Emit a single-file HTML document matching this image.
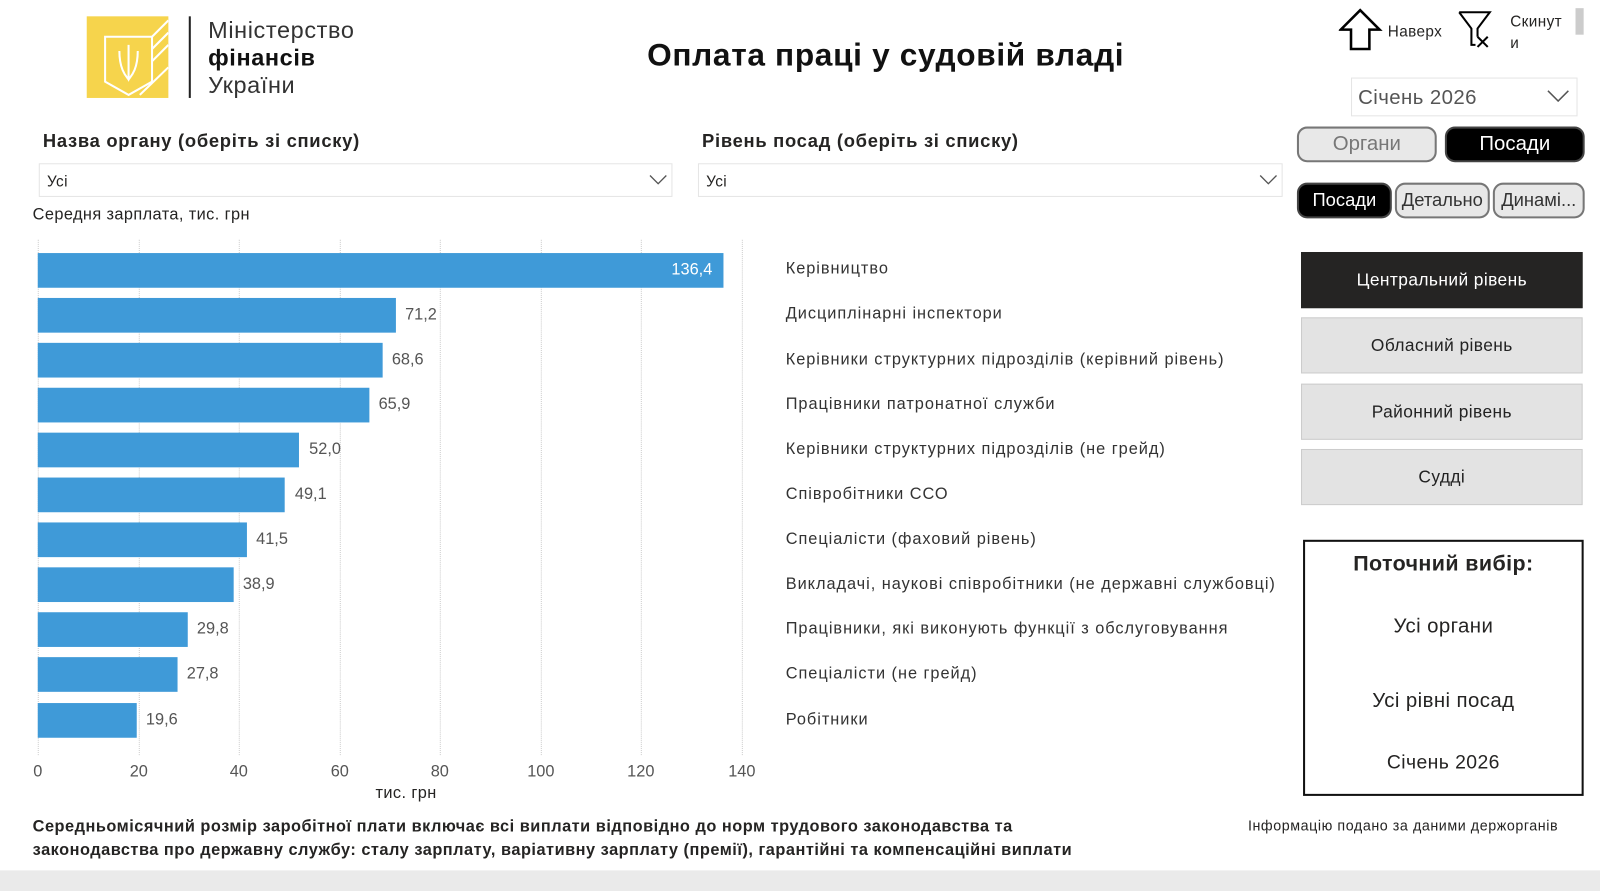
<!DOCTYPE html>
<html><head><meta charset="utf-8"><style>
body{margin:0;width:1600px;height:873px;background:#fff;overflow:hidden}
#w{position:absolute;left:0;top:0;width:1568px;height:856px;transform:scale(1.0204);transform-origin:0 0;font-family:"Liberation Sans","DejaVu Sans",sans-serif;color:#252423;letter-spacing:0.4px}
.a{position:absolute}
.bar{position:absolute;left:37px;height:34px;background:#3f9ad8}
.v{position:absolute;font-size:16px;color:#555;letter-spacing:0}
.lb{position:absolute;left:770px;font-size:16px;color:#333;letter-spacing:0.95px}
.g{position:absolute;top:235px;height:505px;border-left:1px dotted #ccc}
.t{position:absolute;top:748px;font-size:16px;color:#555;transform:translateX(-50%);letter-spacing:0}
.btn{position:absolute;box-sizing:border-box;text-align:center;border:2px solid #777;border-radius:10px;background:#e8e8e8;color:#333;letter-spacing:0}
.side{position:absolute;left:1275px;width:276px;height:55px;box-sizing:border-box;background:#e3e3e3;border:1px solid #ccc;font-size:17px;text-align:center;line-height:53px;color:#222}
</style></head><body><div id="w">
<div class="a" style="left:85px;top:16px;width:80px;height:80px;background:#f6d44c"></div>
<svg class="a" style="left:85px;top:16px" width="80" height="80"><g stroke="#fff" stroke-width="2" fill="none"><path d="M18 20h46v44l-23 13l-23-13z"/><path d="M64 20L80 4M64 32L80 16M64 44L80 28M52 77L80 50"/><path d="M41 28v34M32 34c0 20 8 26 9 28c1-2 9-8 9-28"/></g></svg>
<div class="a" style="left:185px;top:16px;width:2px;height:80px;background:#222"></div>
<div class="a" style="left:204px;top:16px;font-size:23px;line-height:27px;color:#333;letter-spacing:0.6px">Міністерство<br><b style="color:#111">фінансів</b><br>України</div>
<div class="a" style="left:0;width:1736px;top:36px;text-align:center;font-size:31px;font-weight:bold;color:#111;letter-spacing:0.65px">Оплата праці у судовій владі</div>
<svg class="a" style="left:1312px;top:8px" width="44" height="42"><path d="M21 2L2 21h10v19h18V21h10z" fill="none" stroke="#000" stroke-width="2.5"/></svg>
<div class="a" style="left:1360px;top:23px;font-size:15px">Наверх</div>
<svg class="a" style="left:1428px;top:10px" width="36" height="38"><path d="M2 2h30L20 18v8M2 2l12 16v16h4" fill="none" stroke="#000" stroke-width="2"/><path d="M20 26l10 10M30 26L20 36" stroke="#000" stroke-width="2"/></svg>
<div class="a" style="left:1480px;top:11px;font-size:15px;line-height:21px">Скинут<br>и</div>
<div class="a" style="left:1544px;top:8px;width:8px;height:26px;background:#ccc"></div>
<div class="a" style="left:1324px;top:76px;width:222px;height:38px;border:1px solid #e5e5e5;box-sizing:border-box"></div>
<div class="a" style="left:1331px;top:85px;font-size:20px;color:#555">Січень 2026</div>
<svg class="a" style="left:1516px;top:88px" width="22" height="12"><path d="M1 1l10 10L21 1" fill="none" stroke="#555" stroke-width="1.5"/></svg>
<div class="btn" style="left:1271px;top:124px;width:137px;height:35px;font-size:20px;line-height:31px;color:#777">Органи</div>
<div class="btn" style="left:1416px;top:124px;width:137px;height:35px;font-size:20px;line-height:31px;background:#000;color:#fff;border-color:#444">Посади</div>
<div class="btn" style="left:1271px;top:179px;width:93px;height:35px;font-size:18px;line-height:31px;background:#000;color:#fff;border-color:#444">Посади</div>
<div class="btn" style="left:1367px;top:179px;width:93px;height:35px;font-size:18px;line-height:31px">Детально</div>
<div class="btn" style="left:1463px;top:179px;width:90px;height:35px;font-size:18px;line-height:31px">Динамі...</div>
<div class="a" style="left:42px;top:128px;font-size:18px;font-weight:bold;letter-spacing:0.7px">Назва органу (оберіть зі списку)</div>
<div class="a" style="left:688px;top:128px;font-size:18px;font-weight:bold;letter-spacing:0.7px">Рівень посад (оберіть зі списку)</div>
<div class="a" style="left:38px;top:160px;width:621px;height:33px;border:1px solid #e5e5e5;box-sizing:border-box"></div>
<div class="a" style="left:684px;top:160px;width:573px;height:33px;border:1px solid #e5e5e5;box-sizing:border-box"></div>
<div class="a" style="left:46px;top:170px;font-size:15px">Усі</div>
<div class="a" style="left:692px;top:170px;font-size:15px">Усі</div>
<svg class="a" style="left:636px;top:171px" width="18" height="10"><path d="M1 1l8 8l8-8" fill="none" stroke="#555" stroke-width="1.3"/></svg>
<svg class="a" style="left:1234px;top:171px" width="18" height="10"><path d="M1 1l8 8l8-8" fill="none" stroke="#555" stroke-width="1.3"/></svg>
<div class="a" style="left:32px;top:202px;font-size:16px">Середня зарплата, тис. грн</div>
<div class="g" style="left:37px"></div><div class="g" style="left:136px"></div><div class="g" style="left:234px"></div><div class="g" style="left:333px"></div><div class="g" style="left:431px"></div><div class="g" style="left:530px"></div><div class="g" style="left:628px"></div><div class="g" style="left:727px"></div>
<div class="t" style="left:37px">0</div><div class="t" style="left:136px">20</div><div class="t" style="left:234px">40</div><div class="t" style="left:333px">60</div><div class="t" style="left:431px">80</div><div class="t" style="left:530px">100</div><div class="t" style="left:628px">120</div><div class="t" style="left:727px">140</div>
<div class="a" style="left:368px;top:769px;font-size:16px">тис. грн</div>
<div class="bar" style="top:248px;width:672px"></div><div class="v" style="left:658px;top:256px;color:#fff">136,4</div>
<div class="bar" style="top:292px;width:351px"></div><div class="v" style="left:397px;top:300px">71,2</div>
<div class="bar" style="top:336px;width:338px"></div><div class="v" style="left:384px;top:344px">68,6</div>
<div class="bar" style="top:380px;width:325px"></div><div class="v" style="left:371px;top:388px">65,9</div>
<div class="bar" style="top:424px;width:256px"></div><div class="v" style="left:303px;top:432px">52,0</div>
<div class="bar" style="top:468px;width:242px"></div><div class="v" style="left:289px;top:476px">49,1</div>
<div class="bar" style="top:512px;width:205px"></div><div class="v" style="left:251px;top:520px">41,5</div>
<div class="bar" style="top:556px;width:192px"></div><div class="v" style="left:238px;top:564px">38,9</div>
<div class="bar" style="top:600px;width:147px"></div><div class="v" style="left:193px;top:608px">29,8</div>
<div class="bar" style="top:644px;width:137px"></div><div class="v" style="left:183px;top:652px">27,8</div>
<div class="bar" style="top:689px;width:97px"></div><div class="v" style="left:143px;top:697px">19,6</div>
<div class="lb" style="top:255px">Керівництво</div>
<div class="lb" style="top:299px">Дисциплінарні інспектори</div>
<div class="lb" style="top:344px">Керівники структурних підрозділів (керівний рівень)</div>
<div class="lb" style="top:388px">Працівники патронатної служби</div>
<div class="lb" style="top:432px">Керівники структурних підрозділів (не грейд)</div>
<div class="lb" style="top:476px">Співробітники ССО</div>
<div class="lb" style="top:520px">Спеціалісти (фаховий рівень)</div>
<div class="lb" style="top:564px">Викладачі, наукові співробітники (не державні службовці)</div>
<div class="lb" style="top:608px">Працівники, які виконують функції з обслуговування</div>
<div class="lb" style="top:652px">Спеціалісти (не грейд)</div>
<div class="lb" style="top:697px">Робітники</div>
<div class="side" style="top:247px;background:#252423;color:#fff;border-color:#252423">Центральний рівень</div>
<div class="side" style="top:311px">Обласний рівень</div>
<div class="side" style="top:376px">Районний рівень</div>
<div class="side" style="top:440px">Судді</div>
<div class="a" style="left:1277px;top:529px;width:275px;height:251px;border:2px solid #111;box-sizing:border-box;text-align:center;font-size:20px">
<div style="margin-top:10px;font-weight:bold;font-size:21px">Поточний вибір:</div>
<div style="margin-top:38px">Усі органи</div>
<div style="margin-top:50px">Усі рівні посад</div>
<div style="margin-top:38px;font-size:19px">Січень 2026</div></div>
<div class="a" style="left:32px;top:799px;font-size:16px;font-weight:bold;line-height:23px;letter-spacing:0.5px">Середньомісячний розмір заробітної плати включає всі виплати відповідно до норм трудового законодавства та<br>законодавства про державну службу: сталу зарплату, варіативну зарплату (премії), гарантійні та компенсаційні виплати</div>
<div class="a" style="left:1223px;top:801px;font-size:14px;letter-spacing:0.55px">Інформацію подано за даними держорганів</div>
<div class="a" style="left:0;top:853px;width:1600px;height:20px;background:#eaeaea"></div>
</div></body></html>
